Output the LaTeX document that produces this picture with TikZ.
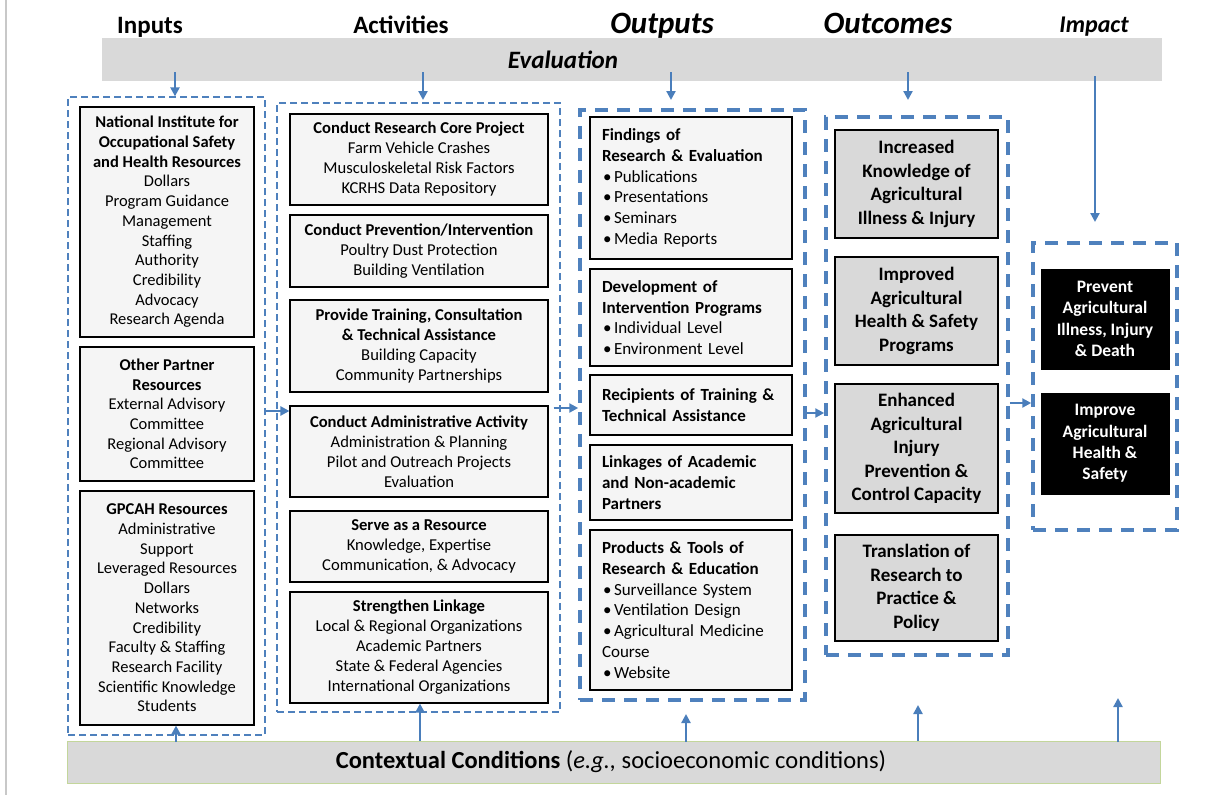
\documentclass[tikz,border=0pt]{standalone}
\usepackage{fontspec}
\setmainfont{Carlito}
\usetikzlibrary{arrows.meta}
\definecolor{dashblue}{HTML}{4F81BD}
\definecolor{arrblue}{HTML}{4A7EBB}
\definecolor{bargray}{HTML}{D9D9D9}
\definecolor{boxgray}{HTML}{F5F5F5}
\definecolor{ctxline}{HTML}{C3D69B}
\definecolor{edgegray}{HTML}{C8C8C8}
\newcommand\bt[1]{\textbf{#1}}
\newcommand\bul{\hspace*{1pt}\makebox[11pt][l]{\textbullet}}
\begin{document}
\begin{tikzpicture}[x=1pt,y=-1pt,
  thindash/.style={draw=dashblue, line width=1.3pt, dash pattern=on 7pt off 4pt, inner sep=0pt},
  thickdash/.style={draw=dashblue, line width=3.5pt, dash pattern=on 13pt off 9pt, inner sep=0pt},
  inbox/.style={draw=black, line width=1.1pt, fill=boxgray, align=center, inner sep=0pt, font=\fontsize{16.5}{19.7}\selectfont},
  actbox/.style={inbox, font=\fontsize{16.6}{20}\selectfont},
  outbox/.style={draw=black, line width=1.1pt, fill=boxgray, align=left, inner sep=0pt, text width=178pt, font=\fontsize{17}{20.8}\selectfont},
  ocbox/.style={draw=black, line width=2.6pt, fill=bargray, align=center, inner sep=0pt, font=\fontsize{19}{23.6}\selectfont\bfseries},
  impbox/.style={draw=black, fill=black, text=white, align=center, inner sep=0pt, font=\fontsize{17.5}{21.3}\selectfont\bfseries},
  arr/.style={draw=arrblue, line width=2.2pt, -{Triangle[length=9pt,width=9pt]}},
  head/.style={font=\fontsize{25}{30}\selectfont\bfseries, anchor=base, inner sep=0pt},
  headit/.style={font=\fontsize{31}{36}\selectfont\bfseries\itshape, anchor=base, inner sep=0pt},
]
\useasboundingbox (0,0) rectangle (1216,795);
\draw[edgegray, line width=1.5pt] (6,0) -- (6,795);

% headers
\node[head] (hin) at (150,33) {Inputs};
\node[head] (hact) at (401,33) {Activities};
\node[headit] (hout) at (662,34) {Outputs};
\node[headit] (hoc) at (888,34) {Outcomes};
\node[head, font=\fontsize{24}{30}\selectfont\bfseries\itshape] (himp) at (1094,32) {Impact};

% evaluation bar
\node[fill=bargray, minimum width=1060pt, minimum height=43pt, inner sep=0pt] (eval) at (632,59.5) {};
\node[head, font=\fontsize{25}{30}\selectfont\bfseries\itshape] (evaltxt) at (563,68) {Evaluation};

% containers
\node[thindash, minimum width=197pt, minimum height=638pt] (incont) at (166.5,416) {};
\node[thindash, minimum width=283pt, minimum height=609pt] (actcont) at (418.5,407.5) {};
\node[thickdash, minimum width=225pt, minimum height=590pt] (outcont) at (692.5,405) {};
\node[thickdash, minimum width=182pt, minimum height=538pt] (occont) at (917,386) {};
\node[thickdash, minimum width=144pt, minimum height=287pt] (impcont) at (1105,386.5) {};

% inputs
\node[inbox, minimum width=174pt, minimum height=230pt] (in1) at (167,222)
 {\bt{National Institute for}\\\bt{Occupational Safety}\\\bt{and Health Resources}\\Dollars\\Program Guidance\\Management\\Staffing\\Authority\\Credibility\\Advocacy\\Research Agenda};
\node[inbox, minimum width=174pt, minimum height=134pt] (in2) at (167,414)
 {\bt{Other Partner}\\\bt{Resources}\\External Advisory\\Committee\\Regional Advisory\\Committee};
\node[inbox, minimum width=174pt, minimum height=234pt] (in3) at (167,608)
 {\bt{GPCAH Resources}\\Administrative\\Support\\Leveraged Resources\\Dollars\\Networks\\Credibility\\Faculty \& Staffing\\Research Facility\\Scientific Knowledge\\Students};

% activities
\node[actbox, minimum width=258pt, minimum height=91pt] (act1) at (419,159.5)
 {\bt{Conduct Research Core Project}\\Farm Vehicle Crashes\\Musculoskeletal Risk Factors\\KCRHS Data Repository};
\node[actbox, minimum width=258pt, minimum height=72pt] (act2) at (419,251)
 {\bt{Conduct Prevention/Intervention}\\Poultry Dust Protection\\Building Ventilation};
\node[actbox, minimum width=258pt, minimum height=92pt] (act3) at (419,346)
 {\bt{Provide Training, Consultation}\\\bt{\& Technical Assistance}\\Building Capacity\\Community Partnerships};
\node[actbox, minimum width=258pt, minimum height=91pt] (act4) at (419,451.5)
 {\bt{Conduct Administrative Activity}\\Administration \& Planning\\Pilot and Outreach Projects\\Evaluation};
\node[actbox, minimum width=258pt, minimum height=71pt] (act5) at (419,546.5)
 {\bt{Serve as a Resource}\\Knowledge, Expertise\\Communication, \& Advocacy};
\node[actbox, minimum width=258pt, minimum height=111pt] (act6) at (419,647.5)
 {\bt{Strengthen Linkage}\\Local \& Regional Organizations\\Academic Partners\\State \& Federal Agencies\\International Organizations};

% outputs
\node[outbox, minimum width=202pt, minimum height=142pt] (out1) at (691,188)
 {\bt{Findings of}\\\bt{Research \& Evaluation}\\\bul Publications\\\bul Presentations\\\bul Seminars\\\bul Media Reports};
\node[outbox, minimum width=202pt, minimum height=97pt] (out2) at (691,317.5)
 {\bt{Development of}\\\bt{Intervention Programs}\\\bul Individual Level\\\bul Environment Level};
\node[outbox, minimum width=202pt, minimum height=60pt] (out3) at (691,405)
 {\bt{Recipients of Training \&}\\\bt{Technical Assistance}};
\node[outbox, minimum width=202pt, minimum height=75pt] (out4) at (691,482.5)
 {\bt{Linkages of Academic}\\\bt{and Non-academic}\\\bt{Partners}};
\node[outbox, minimum width=202pt, minimum height=160pt] (out5) at (691,610)
 {\bt{Products \& Tools of}\\\bt{Research \& Education}\\\bul Surveillance System\\\bul Ventilation Design\\\bul Agricultural Medicine\\Course\\\bul Website};

% outcomes
\node[ocbox, minimum width=163pt, minimum height=108pt] (oc1) at (916.5,184)
 {Increased\\Knowledge of\\Agricultural\\Illness \& Injury};
\node[ocbox, minimum width=163pt, minimum height=108pt] (oc2) at (916.5,311)
 {Improved\\Agricultural\\Health \& Safety\\Programs};
\node[ocbox, minimum width=163pt, minimum height=129pt] (oc3) at (916.5,448.5)
 {Enhanced\\Agricultural\\Injury\\Prevention \&\\Control Capacity};
\node[ocbox, minimum width=163pt, minimum height=106pt] (oc4) at (916.5,588)
 {Translation of\\Research to\\Practice \&\\Policy};

% impact
\node[impbox, minimum width=128pt, minimum height=100pt] (imp1) at (1105,319)
 {Prevent\\Agricultural\\Illness, Injury\\\& Death};
\node[impbox, minimum width=128pt, minimum height=101pt] (imp2) at (1105,443.5)
 {Improve\\Agricultural\\Health \&\\Safety};

% context bar
\node[fill=bargray, draw=ctxline, line width=1pt, minimum width=1093pt, minimum height=42pt, inner sep=0pt] (ctx) at (613.5,762) {};
\node[font=\fontsize{24.5}{28}\selectfont, inner sep=0pt] (ctxtxt) at (611,762)
 {\textbf{Contextual Conditions} (\textit{e.g.,} socioeconomic conditions)};

% evaluation arrows
\coordinate (e1) at (175,72); \coordinate (e2) at (423,72); \coordinate (e3) at (671,72);
\coordinate (e4) at (908,72); \coordinate (e5) at (1095,76);
\coordinate (t2) at (423,100); \coordinate (t3) at (671,100); \coordinate (t4) at (908,100);
\coordinate (t5) at (1095,222);
\draw[arr] (e1) -- (e1 |- incont.north);
\draw[arr] (e2) -- (t2);
\draw[arr] (e3) -- (t3);
\draw[arr] (e4) -- (t4);
\draw[arr] (e5) -- (t5);

% horizontal arrows
\coordinate (h1) at (0,411); \coordinate (h2) at (0,408);
\coordinate (h3) at (0,413); \coordinate (h4) at (0,403);
\draw[arr] (incont.east |- h1) -- (act4.west |- h1);
\draw[arr] ([xshift=5pt]act4.east |- h2) -- (outcont.west |- h2);
\draw[arr] (outcont.east |- h3) -- (occont.west |- h3);
\draw[arr] (occont.east |- h4) -- (impcont.west |- h4);

% context arrows
\coordinate (b1) at (176,742); \coordinate (b2) at (420,741);
\coordinate (b3) at (686,742); \coordinate (b4) at (918,741); \coordinate (b5) at (1118,742);
\coordinate (u3) at (686,714); \coordinate (u4) at (918,705); \coordinate (u5) at (1118,698);
\draw[arr] (b1) -- (b1 |- in3.south);
\draw[arr] (b2) -- (b2 |- act6.south);
\draw[arr] (b3) -- (u3);
\draw[arr] (b4) -- (u4);
\draw[arr] (b5) -- (u5);
\end{tikzpicture}
\end{document}
